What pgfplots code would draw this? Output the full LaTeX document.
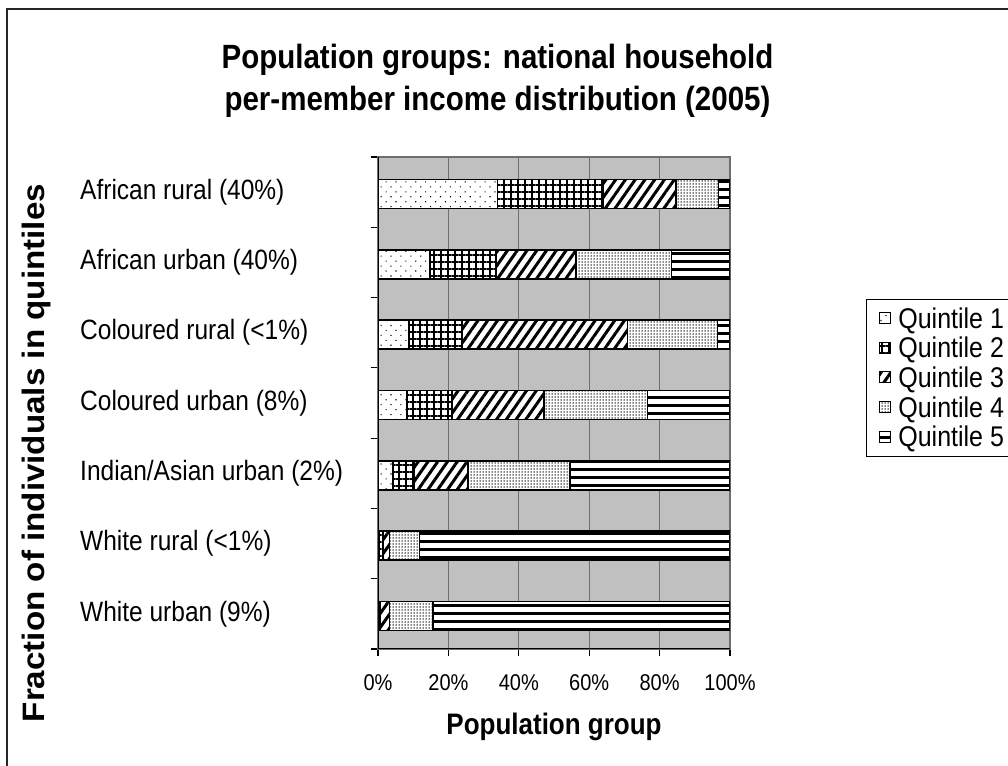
\documentclass[border=0pt]{standalone}
\usepackage{fontspec}
\setmainfont{Liberation Sans}
\usepackage{pgfplots}
\usepackage{pgfplotstable}
\pgfplotsset{compat=1.18}
\usetikzlibrary{patterns.meta}
\definecolor{plotbg}{RGB}{192,192,192}
\definecolor{gridc}{RGB}{110,110,110}
\newcommand{\vs}[1]{\scalebox{1}[1.14]{#1}}

\pgfplotstableread{
y q1 q2 q3 q4 q5
6 34.0 30.0 20.6 12.1 3.3
5 14.7 18.8 22.7 27.2 16.6
4 8.8 15.0 47.1 25.6 3.5
3 8.2 12.8 26.1 29.5 23.4
2 4.3 5.9 15.3 29.0 45.5
1 0.3 1.1 1.9 8.5 88.2
0 0.2 0.4 2.7 12.3 84.4
}\data

\begin{document}
\begin{tikzpicture}
\useasboundingbox (0,0) rectangle (1008bp,766bp);
\draw[line width=2bp, black!85] (7bp,-20bp) -- (7bp,757bp) -- (1030bp,757bp);
\begin{axis}[
  at={(378bp,117bp)}, anchor=south west,
  width=352bp, height=492bp, scale only axis,
  xbar stacked, bar width=29bp, bar shift=-2bp,
  xmin=0, xmax=100, ymin=-0.5, ymax=6.5,
  xtick={0,20,40,60,80,100},
  xticklabels={\vs{0\%},\vs{20\%},\vs{40\%},\vs{60\%},\vs{80\%},\vs{100\%}},
  ytick={-0.5,0.5,1.5,2.5,3.5,4.5,5.5,6.5},
  yticklabels={\vs{White urban (9\%)},\vs{White rural (<1\%)},\vs{Indian/Asian urban (2\%)},\vs{Coloured urban (8\%)},\vs{Coloured rural (<1\%)},\vs{African urban (40\%)},\vs{African rural (40\%)}},
  y tick label as interval,
  xmajorgrids,
  grid style={gridc, line width=1.2bp},
  axis background/.style={fill=plotbg},
  axis line style={gridc, line width=1.2bp},
  tick align=outside, xtick pos=left, ytick pos=left,
  major tick length=7bp,
  tick style={black, line width=1.2bp},
  xticklabel style={font=\fontsize{20bp}{24bp}\selectfont, yshift=-15bp},
  yticklabel style={font=\fontsize{24.5bp}{28bp}\selectfont, anchor=west, inner sep=0pt, xshift=-291bp},
  xlabel={\vs{Population group}},
  xlabel style={font=\bfseries\fontsize{26bp}{30bp}\selectfont, at={(axis description cs:0.5,-0.1585)}, anchor=center},
  ylabel={\scalebox{1.07}[1]{Fraction of individuals in quintiles}},
  ylabel style={font=\bfseries\fontsize{31bp}{34bp}\selectfont, at={(axis description cs:-0.969,0.398)}, anchor=center},
  title={\vs{Population groups: national household}\\\vs{per-member income distribution (2005)}},
  title style={font=\bfseries\fontsize{29.5bp}{42bp}\selectfont, align=center, at={(axis description cs:0.3395,1.1423)}, anchor=center},
  legend style={at={(axis description cs:1.386,0.7114)}, anchor=north west, draw=black, line width=1bp, fill=white,
    font=\fontsize{25bp}{28bp}\selectfont, inner xsep=13bp, inner ysep=6bp, row sep=3.5bp,
    cells={anchor=west}, /tikz/every odd column/.append style={column sep=5bp}},
  legend image code/.code={\draw[#1, line width=1bp] (0bp,-5bp) rectangle (11bp,6bp);},
]
\addplot[draw=black, line width=1.6bp, fill=white, postaction={pattern={Dots[angle=45,distance=7bp,radius=0.8bp]}}] table[x=q1,y=y]{\data};
\addplot[draw=black, line width=1.6bp, fill=white, postaction={pattern={Hatch[angle=0,distance=7bp,line width=2bp]}}] table[x=q2,y=y]{\data};
\addplot[draw=black, line width=1.6bp, fill=white, postaction={pattern={Lines[angle=55,distance=8bp,line width=3bp]}}] table[x=q3,y=y]{\data};
\addplot[draw=black, line width=1.6bp, fill=white, postaction={pattern={Dots[distance=3bp,radius=0.75bp]}}] table[x=q4,y=y]{\data};
\addplot[draw=black, line width=1.6bp, fill=white, postaction={pattern={Lines[angle=0,distance=8bp,line width=3bp]}}] table[x=q5,y=y]{\data};
\addlegendentry{\vs{Quintile 1}\hspace*{40bp}}
\addlegendentry{\vs{Quintile 2}\hspace*{40bp}}
\addlegendentry{\vs{Quintile 3}\hspace*{40bp}}
\addlegendentry{\vs{Quintile 4}\hspace*{40bp}}
\addlegendentry{\vs{Quintile 5}\hspace*{40bp}}
\draw[black, line width=1.2bp] (rel axis cs:0,1) -- (rel axis cs:0,0) -- (rel axis cs:1,0);
\end{axis}
\end{tikzpicture}
\end{document}
